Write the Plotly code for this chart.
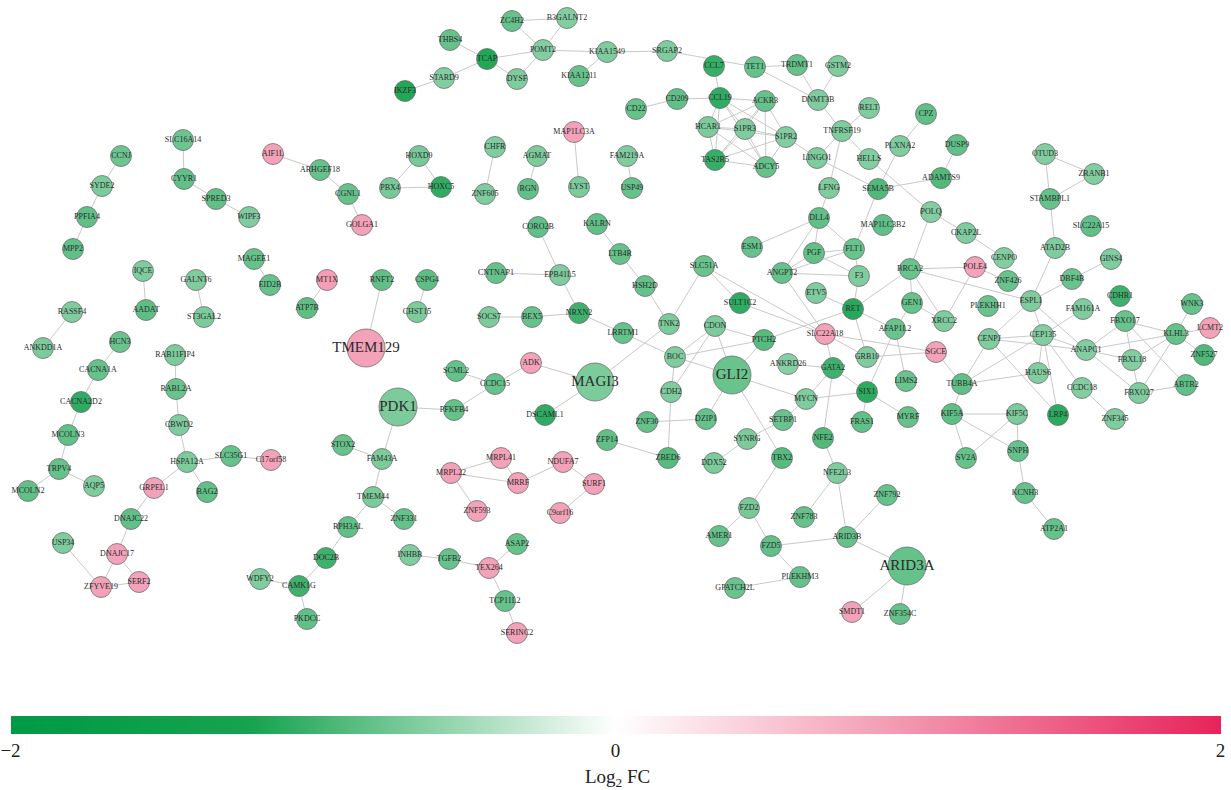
import plotly.graph_objects as go

# ---------------- data ----------------
node_names = [
    "ZC4H2", "B3GALNT2", "THBS4", "TCAP", "POMT2", "KIAA1549", "STARD9", "DYSF", "KIAA1211", "IKZF3",
    "SRGAP2", "CCL7", "TET1", "TRDMT1", "GSTM2", "CD22", "CD209", "CCL19", "ACKR3", "HCAR1",
    "S1PR3", "S1PR2", "TAS2R5", "ADCY5", "DNMT3B", "RELT", "TNFRSF19", "LINGO1", "HELLS", "PLXNA2",
    "CPZ", "DUSP9", "ADAMTS9", "SEMA5B", "LFNG", "DLL4", "MAP1LC3B2", "POLQ", "CKAP2L", "CENPO",
    "POLE4", "ZNF426", "OTUD3", "ZRANB1", "STAMBPL1", "ATAD2B", "SLC22A15", "GINS4", "DBF4B", "ESPL1",
    "CDHR1", "FAM161A", "FBXO17", "WNK3", "KLHL3", "LCMT2", "ZNF527", "CENPJ", "CEP135", "ANAPC1",
    "FBXL18", "HAUS6", "SGCE", "TUBB4A", "CCDC18", "FBXO27", "ABTB2", "KIF5A", "KIF5C", "LRP4",
    "ZNF345", "SV2A", "SNPH", "KCNH3", "ATP2A1", "PLEKHH1", "XRCC2", "BRCA2", "GEN1", "ESM1",
    "PGF", "FLT1", "ANGPT2", "F3", "SLC51A", "LTB4R", "HSH2D", "TNK2", "LRRTM1", "SULT1C2",
    "ETV5", "RET", "CDON", "PTCH2", "SLC22A18", "AFAP1L2", "BOC", "GLI2", "ANKRD26", "GATA2",
    "GRB10", "LIMS2", "CDH2", "MYCN", "SIX1", "MYRF", "FRAS1", "ZNF30", "DZIP1", "SETBP1",
    "SYNRG", "NFE2", "ZBED6", "DDX52", "TBX2", "NFE2L3", "ZNF792", "FZD2", "ZNF783", "AMER1",
    "FZD5", "ARID3B", "ARID3A", "PLEKHM3", "GPATCH2L", "SMDT1", "ZNF354C", "ZFP14", "GOLGA1", "CORO2B",
    "KALRN", "MT1X", "RNFT2", "CSPG4", "CNTNAP1", "EPB41L5", "CHST15", "ATP7B", "SOCS7", "BEX5",
    "NRXN2", "TMEM129", "ADK", "SCML2", "CCDC15", "MAGI3", "PDK1", "PFKFB4", "DSCAML1", "STOX2",
    "FAM43A", "MRPL41", "NDUFA7", "MRPL22", "MRRF", "SURF1", "TMEM44", "ZNF593", "C9orf16", "ZNF331",
    "RPH3AL", "ASAP2", "INHBB", "TGFB2", "TEX264", "DOC2B", "CAMK1G", "PKDCC", "TCP11L2", "SERINC2",
    "WDFY2", "TRPV4", "MCOLN2", "AQP5", "HSPA12A", "SLC35G1", "C17orf58", "GRPEL1", "BAG2", "DNAJC22",
    "USP34", "DNAJC17", "ZFYVE19", "SERF2", "MPP2", "PPFIA4", "IQCE", "AADAT", "GALNT6", "ST3GAL2",
    "MAGEE1", "EID2B", "RASSF4", "ANKDD1A", "HCN3", "CACNA1A", "CACNA2D2", "MCOLN3", "RAB11FIP4", "RABL2A",
    "CBWD2", "CCNJ", "SYDE2", "SLC16A14", "CYYR1", "SPRED3", "WIPF3", "AIF1L", "ARHGEF18", "CGNL1",
    "HOXD9", "PBX4", "HOXC5", "CHFR", "ZNF605", "AGMAT", "RGN", "MAP1LC3A", "LYST", "FAM219A",
    "USP49",
]

# network layout coordinates (layout units)
node_x = [
    512, 567, 450, 487, 543, 607, 444, 517, 579, 405,
    667, 714, 755, 797, 838, 636, 677, 720, 765, 708,
    745, 786, 715, 766, 818, 869, 842, 817, 869, 900,
    926, 957, 941, 878, 829, 819, 883, 931, 966, 1004,
    975, 1008, 1045, 1094, 1050, 1055, 1091, 1111, 1072, 1031,
    1120, 1083, 1125, 1192, 1176, 1210, 1204, 989, 1043, 1086,
    1132, 1038, 936, 962, 1082, 1139, 1186, 952, 1017, 1058,
    1115, 966, 1018, 1025, 1054, 988, 944, 910, 912, 752,
    814, 854, 782, 859, 704, 620, 645, 669, 623, 740,
    816, 853, 715, 764, 825, 895, 675, 732, 788, 833,
    867, 906, 671, 806, 867, 908, 862, 647, 706, 783,
    747, 823, 668, 714, 782, 837, 887, 749, 804, 719,
    771, 847, 907, 800, 735, 852, 900, 607, 362, 538,
    597, 327, 382, 427, 496, 560, 417, 307, 489, 532,
    579, 366, 531, 456, 495, 595, 398, 454, 545, 343,
    382, 501, 563, 451, 518, 594, 373, 477, 560, 404,
    348, 517, 410, 449, 489, 326, 299, 307, 505, 517,
    260, 59, 28, 94, 187, 231, 271, 154, 207, 131,
    63, 117, 101, 139, 73, 87, 143, 146, 196, 204,
    254, 270, 72, 43, 120, 98, 81, 68, 175, 176,
    179, 121, 102, 183, 184, 216, 249, 273, 320, 348,
    419, 390, 441, 495, 485, 537, 528, 574, 579, 627,
    632,
]
node_y = [
    21, 18, 40, 59, 50, 52, 78, 79, 76, 91,
    51, 66, 67, 65, 66, 109, 99, 98, 101, 127,
    129, 137, 160, 167, 100, 108, 131, 158, 159, 146,
    114, 145, 178, 189, 188, 218, 225, 212, 233, 258,
    267, 281, 154, 174, 199, 248, 226, 259, 279, 301,
    296, 309, 321, 304, 334, 328, 355, 339, 335, 350,
    360, 373, 352, 384, 388, 393, 385, 414, 414, 415,
    419, 458, 451, 493, 529, 306, 321, 269, 303, 247,
    253, 249, 273, 276, 266, 254, 286, 324, 333, 303,
    293, 309, 326, 340, 334, 329, 357, 375, 364, 368,
    357, 381, 392, 399, 392, 417, 422, 422, 419, 420,
    439, 438, 458, 463, 458, 473, 495, 508, 517, 536,
    546, 537, 566, 577, 588, 612, 614, 440, 225, 227,
    224, 280, 280, 280, 273, 275, 312, 308, 317, 317,
    313, 348, 363, 371, 384, 382, 407, 410, 415, 445,
    459, 458, 462, 473, 483, 484, 497, 511, 513, 519,
    527, 544, 555, 559, 568, 558, 586, 619, 601, 633,
    579, 469, 491, 486, 462, 456, 460, 488, 492, 519,
    543, 554, 587, 582, 249, 217, 271, 310, 280, 317,
    259, 285, 312, 348, 342, 370, 402, 435, 355, 389,
    425, 156, 186, 140, 179, 199, 217, 154, 170, 194,
    156, 188, 187, 147, 194, 156, 189, 132, 187, 156,
    188,
]
node_log2fc = [
    -0.80, -0.64, -0.80, -1.15, -0.64, -0.66, -0.64, -0.66, -0.80, -1.15,
    -0.66, -1.05, -0.80, -0.80, -0.66, -0.80, -0.82, -1.08, -0.80, -0.68,
    -0.66, -0.64, -1.05, -0.80, -0.66, -0.66, -0.66, -0.66, -0.64, -0.66,
    -0.82, -0.82, -0.90, -0.90, -0.66, -0.82, -0.82, -0.64, -0.66, -0.64,
    0.85, -0.78, -0.64, -0.64, -0.80, -0.66, -0.82, -0.66, -0.78, -0.66,
    -1.00, -0.66, -0.78, -0.80, -0.80, 0.85, -0.90, -0.66, -0.64, -0.64,
    -0.64, -0.64, 0.85, -0.82, -0.64, -0.66, -0.82, -0.84, -0.68, -1.10,
    -0.66, -0.80, -0.80, -0.80, -0.80, -0.78, -0.66, -0.78, -0.80, -0.80,
    -0.82, -0.78, -0.80, -0.66, -0.78, -0.80, -0.80, -0.68, -0.80, -1.08,
    -0.66, -1.12, -0.68, -0.88, 0.85, -0.78, -0.66, -0.78, -0.62, -1.00,
    -0.66, -0.78, -0.66, -0.66, -1.10, -0.80, -0.82, -0.80, -0.80, -0.78,
    -0.68, -0.90, -0.88, -0.68, -0.88, -0.66, -0.80, -0.70, -0.80, -0.80,
    -0.82, -0.80, -0.80, -0.80, -0.78, 0.85, -0.80, -0.82, 0.85, -0.82,
    -0.82, 0.88, -0.82, -0.84, -0.80, -0.66, -0.68, -0.84, -0.68, -0.80,
    -1.00, 0.85, 0.85, -0.80, -0.80, -0.68, -0.68, -0.80, -1.08, -0.80,
    -0.68, 0.85, 0.85, 0.85, 0.85, 0.85, -0.68, 0.85, 0.85, -0.80,
    -0.82, -0.80, -0.66, -0.80, 0.85, -1.00, -1.00, -0.82, -0.80, 0.85,
    -0.66, -0.80, -0.82, -0.66, -0.68, -0.80, 0.85, 0.85, -0.82, -0.82,
    -0.66, 0.85, 0.85, 0.85, -0.82, -0.82, -0.66, -0.84, -0.66, -0.68,
    -0.80, -0.80, -0.66, -0.68, -0.78, -0.80, -1.08, -0.82, -0.68, -0.78,
    -0.66, -0.76, -0.68, -0.76, -0.82, -0.82, -0.66, 0.85, -0.80, -0.80,
    -0.70, -0.70, -1.08, -0.66, -0.66, -0.68, -0.82, 0.85, -0.68, -0.66,
    -0.80,
]
hub_nodes = ["TMEM129", "PDK1", "MAGI3", "GLI2", "ARID3A"]

edges = [
    ("THBS4", "TCAP"), ("STARD9", "TCAP"), ("IKZF3", "STARD9"), ("TCAP", "POMT2"), ("TCAP", "DYSF"),
    ("DYSF", "POMT2"), ("ZC4H2", "POMT2"), ("ZC4H2", "B3GALNT2"), ("B3GALNT2", "POMT2"),
    ("POMT2", "KIAA1549"), ("KIAA1549", "KIAA1211"), ("KIAA1549", "SRGAP2"), ("SRGAP2", "TET1"),
    ("CCL7", "CCL19"), ("TET1", "TRDMT1"), ("TET1", "DNMT3B"), ("TRDMT1", "DNMT3B"), ("GSTM2", "DNMT3B"),
    ("DNMT3B", "TNFRSF19"), ("CD22", "CD209"), ("CD209", "CCL19"),
    ("CCL19", "ACKR3"), ("CCL19", "HCAR1"), ("CCL19", "S1PR3"), ("CCL19", "TAS2R5"), ("CCL19", "S1PR2"),
    ("CCL19", "ADCY5"), ("ACKR3", "HCAR1"), ("ACKR3", "S1PR3"), ("ACKR3", "TAS2R5"), ("ACKR3", "S1PR2"),
    ("ACKR3", "ADCY5"), ("HCAR1", "S1PR3"), ("HCAR1", "S1PR2"), ("HCAR1", "TAS2R5"), ("HCAR1", "ADCY5"),
    ("S1PR3", "S1PR2"), ("S1PR3", "TAS2R5"), ("S1PR3", "ADCY5"), ("S1PR2", "TAS2R5"), ("S1PR2", "ADCY5"),
    ("TAS2R5", "ADCY5"), ("S1PR2", "LINGO1"), ("LINGO1", "TNFRSF19"), ("TNFRSF19", "RELT"),
    ("TNFRSF19", "HELLS"), ("TNFRSF19", "LFNG"), ("LINGO1", "SEMA5B"), ("HELLS", "POLQ"),
    ("PLXNA2", "SEMA5B"), ("PLXNA2", "CPZ"), ("SEMA5B", "ADAMTS9"), ("ADAMTS9", "DUSP9"),
    ("SEMA5B", "FLT1"), ("LFNG", "DLL4"), ("POLQ", "BRCA2"), ("POLQ", "CKAP2L"), ("CKAP2L", "CENPO"),
    ("OTUD3", "ZRANB1"), ("OTUD3", "STAMBPL1"), ("ZRANB1", "STAMBPL1"), ("STAMBPL1", "ATAD2B"),
    ("ATAD2B", "ESPL1"), ("GINS4", "DBF4B"), ("DBF4B", "ESPL1"), ("POLE4", "ZNF426"), ("POLE4", "BRCA2"),
    ("POLE4", "XRCC2"), ("BRCA2", "ESPL1"), ("BRCA2", "XRCC2"), ("BRCA2", "GEN1"), ("GEN1", "XRCC2"),
    ("ESPL1", "CEP135"), ("ESPL1", "CENPJ"), ("ESPL1", "ANAPC1"), ("FAM161A", "CEP135"),
    ("CEP135", "CENPJ"), ("CEP135", "ANAPC1"), ("CEP135", "HAUS6"), ("CEP135", "TUBB4A"),
    ("CEP135", "LRP4"), ("CEP135", "CCDC18"), ("CENPJ", "ANAPC1"), ("CENPJ", "TUBB4A"),
    ("CENPJ", "LRP4"), ("HAUS6", "TUBB4A"), ("ANAPC1", "FBXO17"), ("ANAPC1", "KLHL3"),
    ("ANAPC1", "FBXL18"), ("ANAPC1", "FBXO27"), ("FBXO17", "FBXL18"), ("FBXO17", "KLHL3"),
    ("FBXO17", "ABTB2"), ("KLHL3", "WNK3"), ("KLHL3", "LCMT2"), ("KLHL3", "ZNF527"), ("KLHL3", "FBXL18"),
    ("KLHL3", "FBXO27"), ("FBXL18", "FBXO27"), ("FBXO27", "ABTB2"), ("CCDC18", "ZNF345"),
    ("SGCE", "TUBB4A"), ("SLC22A18", "SGCE"), ("GRB10", "SGCE"), ("TUBB4A", "KIF5A"),
    ("KIF5A", "KIF5C"), ("KIF5A", "SV2A"), ("KIF5C", "SNPH"), ("KIF5C", "SV2A"), ("KIF5A", "SNPH"),
    ("SNPH", "KCNH3"), ("KCNH3", "ATP2A1"),
    ("DLL4", "PGF"), ("DLL4", "FLT1"), ("DLL4", "ANGPT2"), ("DLL4", "ESM1"), ("PGF", "FLT1"),
    ("PGF", "ANGPT2"), ("PGF", "F3"), ("FLT1", "ANGPT2"), ("FLT1", "F3"), ("ANGPT2", "F3"),
    ("ANGPT2", "SLC22A18"), ("SLC22A18", "GATA2"), ("F3", "RET"), ("ETV5", "RET"), ("RET", "BRCA2"),
    ("RET", "AFAP1L2"), ("RET", "GRB10"), ("RET", "PTCH2"), ("SLC51A", "TNK2"), ("SLC51A", "SULT1C2"),
    ("SLC51A", "SLC22A18"), ("SULT1C2", "SLC22A18"), ("SLC22A18", "GRB10"), ("TNK2", "HSH2D"),
    ("HSH2D", "LTB4R"), ("TNK2", "MAGI3"), ("LRRTM1", "BOC"), ("NRXN2", "LRRTM1"),
    ("BOC", "CDON"), ("BOC", "PTCH2"), ("BOC", "GLI2"), ("BOC", "CDH2"), ("CDON", "GLI2"),
    ("CDON", "PTCH2"), ("CDON", "CDH2"), ("PTCH2", "GLI2"), ("GLI2", "MYCN"), ("GLI2", "DZIP1"),
    ("GLI2", "TBX2"), ("CDH2", "ZBED6"), ("ZNF30", "DZIP1"), ("ANKRD26", "GATA2"), ("GATA2", "MYCN"),
    ("GATA2", "SIX1"), ("GATA2", "NFE2"), ("MYCN", "SIX1"), ("MYCN", "SETBP1"), ("SIX1", "AFAP1L2"),
    ("SIX1", "FRAS1"), ("SIX1", "MYRF"), ("AFAP1L2", "LIMS2"), ("AFAP1L2", "GEN1"),
    ("SETBP1", "SYNRG"), ("NFE2", "NFE2L3"), ("NFE2L3", "ZNF783"), ("NFE2L3", "ARID3B"),
    ("ZFP14", "ZBED6"), ("SYNRG", "DDX52"), ("TBX2", "FZD2"), ("FZD2", "AMER1"), ("FZD2", "FZD5"),
    ("FZD5", "ARID3B"), ("FZD5", "PLEKHM3"), ("PLEKHM3", "GPATCH2L"), ("ARID3B", "ZNF792"),
    ("ARID3B", "ARID3A"), ("ARID3A", "SMDT1"), ("ARID3A", "ZNF354C"),
    ("CORO2B", "EPB41L5"), ("CNTNAP1", "EPB41L5"), ("EPB41L5", "NRXN2"), ("SOCS7", "BEX5"),
    ("BEX5", "NRXN2"), ("KALRN", "LTB4R"), ("RNFT2", "TMEM129"), ("CSPG4", "CHST15"),
    ("MT1X", "ATP7B"), ("MAGEE1", "EID2B"), ("ADK", "CCDC15"), ("ADK", "MAGI3"), ("SCML2", "CCDC15"),
    ("CCDC15", "PFKFB4"), ("PFKFB4", "PDK1"), ("MAGI3", "DSCAML1"), ("PDK1", "FAM43A"),
    ("STOX2", "FAM43A"), ("FAM43A", "TMEM44"), ("TMEM44", "ZNF331"), ("TMEM44", "RPH3AL"),
    ("RPH3AL", "DOC2B"), ("DOC2B", "CAMK1G"), ("CAMK1G", "WDFY2"), ("CAMK1G", "PKDCC"),
    ("MRPL22", "MRPL41"), ("MRPL22", "MRRF"), ("MRPL41", "MRRF"), ("MRRF", "NDUFA7"),
    ("NDUFA7", "SURF1"), ("SURF1", "C9orf16"), ("MRPL22", "ZNF593"), ("INHBB", "TGFB2"),
    ("TGFB2", "TEX264"), ("TEX264", "ASAP2"), ("TEX264", "TCP11L2"), ("TCP11L2", "SERINC2"),
    ("HOXD9", "PBX4"), ("HOXD9", "HOXC5"), ("PBX4", "HOXC5"), ("CHFR", "ZNF605"), ("AGMAT", "RGN"),
    ("MAP1LC3A", "LYST"), ("FAM219A", "USP49"), ("AIF1L", "ARHGEF18"), ("ARHGEF18", "CGNL1"),
    ("CGNL1", "GOLGA1"), ("CCNJ", "SYDE2"), ("SYDE2", "PPFIA4"), ("PPFIA4", "MPP2"),
    ("SLC16A14", "CYYR1"), ("CYYR1", "SPRED3"), ("SPRED3", "WIPF3"), ("IQCE", "AADAT"),
    ("GALNT6", "ST3GAL2"), ("RASSF4", "ANKDD1A"), ("HCN3", "CACNA1A"), ("CACNA1A", "CACNA2D2"),
    ("CACNA2D2", "MCOLN3"), ("MCOLN3", "TRPV4"), ("TRPV4", "MCOLN2"), ("TRPV4", "AQP5"),
    ("RAB11FIP4", "RABL2A"), ("RABL2A", "CBWD2"), ("CBWD2", "HSPA12A"), ("HSPA12A", "SLC35G1"),
    ("SLC35G1", "C17orf58"), ("HSPA12A", "GRPEL1"), ("HSPA12A", "BAG2"), ("GRPEL1", "DNAJC22"),
    ("DNAJC22", "DNAJC17"), ("DNAJC17", "ZFYVE19"), ("DNAJC17", "SERF2"), ("ZFYVE19", "SERF2"),
    ("USP34", "ZFYVE19"),
]

colorbar_ticks = [-2, 0, 2]
colorbar_ticktext = ["\u22122", "0", "2"]

# ---------------- figure ----------------
W, H = 1231, 790
SERIF = "Liberation Serif, Times New Roman, serif"
idx = {n: i for i, n in enumerate(node_names)}
ex, ey = [], []
for a, b in edges:
    ex += [node_x[idx[a]], node_x[idx[b]], None]
    ey += [node_y[idx[a]], node_y[idx[b]], None]

sizes = [38 if n in hub_nodes else 21 for n in node_names]
fsizes = [15 if n in hub_nodes else 8 for n in node_names]

colorscale = [
    [0.0, "#009a44"],
    [0.2, "#17a34f"],
    [0.5, "#ffffff"],
    [1.0, "#e6245a"],
]

fig = go.Figure()
fig.add_trace(go.Scatter(
    x=ex, y=ey, mode="lines",
    line=dict(color="#c9c9c9", width=1),
    hoverinfo="skip", showlegend=False,
))
fig.add_trace(go.Scatter(
    x=node_x, y=node_y, mode="markers+text",
    text=node_names, textposition="middle center",
    textfont=dict(family=SERIF, size=fsizes, color="#2b2b2b"),
    marker=dict(
        size=sizes, color=node_log2fc, colorscale=colorscale, cmin=-2, cmax=2,
        line=dict(color="#6f6f6f", width=0.8), opacity=1,
        showscale=True,
        colorbar=dict(
            orientation="h", x=0.5, xanchor="center", y=1 - 716 / H, yanchor="top",
            len=1210 / W, lenmode="fraction", thickness=18, thicknessmode="pixels",
            outlinewidth=0, xpad=0, ypad=0, ticks="", ticklabeloverflow="allow",
            tickvals=colorbar_ticks, ticktext=colorbar_ticktext,
            tickfont=dict(family=SERIF, size=19, color="#222"),
        ),
    ),
    hovertext=[f"{n}: {v:+.2f}" for n, v in zip(node_names, node_log2fc)],
    hoverinfo="text", showlegend=False,
))

fig.add_annotation(
    x=617 / W, y=1 - 764 / H, xref="paper", yref="paper", yanchor="top",
    text="Log<sub>2</sub> FC", showarrow=False,
    font=dict(family=SERIF, size=19, color="#222"),
)

fig.update_layout(
    width=W, height=H, margin=dict(l=0, r=0, t=0, b=0),
    paper_bgcolor="white", plot_bgcolor="white",
    xaxis=dict(range=[0, W], visible=False, fixedrange=True),
    yaxis=dict(range=[H, 0], visible=False, fixedrange=True),
    showlegend=False,
)

fig.write_html(
    "out.html",
    config={"displayModeBar": False},
    post_script="document.body.style.margin='0px';document.body.style.overflow='hidden';",
)
